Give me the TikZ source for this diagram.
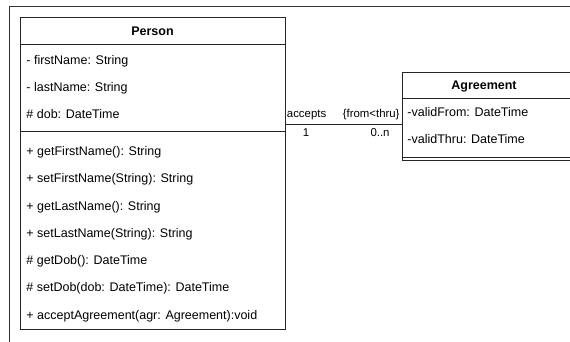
\documentclass[tikz,border=0pt]{standalone}
\usepackage{fontspec}
\setmainfont{Liberation Sans}
\begin{document}
\begin{tikzpicture}[x=1pt,y=-1pt,
  line width=0.9pt,
  frame/.style={draw=black!80},
  classbox/.style={draw=black!85, anchor=north west, inner sep=0pt, outer sep=0pt},
  sep/.style={draw=black!85},
  member/.style={anchor=base west, inner sep=0pt, font=\fontsize{12.5}{15}\selectfont},
  title/.style={anchor=base, inner sep=0pt, font=\fontsize{12.5}{15}\selectfont\bfseries},
  elabel/.style={inner sep=0pt, font=\fontsize{11.4}{13}\selectfont}]
\useasboundingbox (0,0) rectangle (570,342);
\clip (0,0) rectangle (570,342);

% enclosing frame
\draw[frame] (9.5,6) rectangle (620,400);

% Person class
\node[classbox, minimum width=265pt, minimum height=312pt] (person) at (20,17) {};
\draw[sep] (20,44) -- (285,44);
\draw[sep] (20,131) -- (285,131);
\node[title] (ptitle) at (152.5,35.5) {Person};
\node[member] (a1) at (26,64.5) {- firstName: String};
\node[member] (a2) at (26,91.5) {- lastName: String};
\node[member] (a3) at (26,119) {\# dob: DateTime};
\node[member] (m1) at (26,155.5) {+ getFirstName(): String};
\node[member] (m2) at (26,182.5) {+ setFirstName(String): String};
\node[member] (m3) at (26,210) {+ getLastName(): String};
\node[member] (m4) at (26,237) {+ setLastName(String): String};
\node[member] (m5) at (26,264.5) {\# getDob(): DateTime};
\node[member] (m6) at (26,291.5) {\# setDob(dob: DateTime): DateTime};
\node[member] (m7) at (26,319) {+ acceptAgreement(agr: Agreement):void};

% Agreement class
\node[classbox, minimum width=200pt, minimum height=88pt] (agreement) at (402,72) {};
\draw[sep] (402,98) -- (620,98);
\draw[sep] (402,157) -- (620,157);
\node[title] (atitle) at (484,89.5) {Agreement};
\node[member] (b1) at (407,116.5) {-validFrom: DateTime};
\node[member] (b2) at (407,143.5) {-validThru: DateTime};

% association
\coordinate (lvl) at (0,124);
\draw[black!85] (person.east |- lvl) -- (agreement.west |- lvl);
\node[elabel, anchor=base west] (role1) at (286.5,118) {accepts};
\node[elabel, anchor=base east] (role2) at (400,118) {\{from<thru\}};
\node[elabel, anchor=base] (mult1) at (306,137) {1};
\node[elabel, anchor=base east] (mult2) at (390,137) {0..n};
\end{tikzpicture}
\end{document}
